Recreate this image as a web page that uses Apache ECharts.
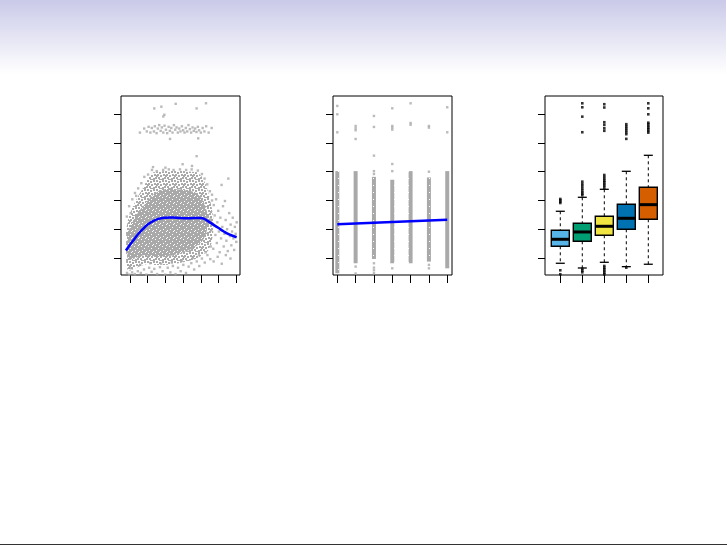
<!DOCTYPE html>
<html><head><meta charset="utf-8">
<script src="https://cdn.jsdelivr.net/npm/echarts@6/dist/echarts.min.js"></script>
<style>html,body{margin:0;padding:0;background:#fff}#c{width:727px;height:545px}</style>
</head><body><div id="c"></div>
<script>
// ---------- DATA ----------
const ageTicks = [20, 30, 40, 50, 60, 70, 80];
const yearTicks = [2003, 2004, 2005, 2006, 2007, 2008, 2009];
const eduTicks = [1, 2, 3, 4, 5];
const wageTicks = [50, 100, 150, 200, 250, 300];

// Panel 1: wage vs age — outlines of the point cloud (outer = medium density, inner = dense)
const ageOuter = [[17.8,40],[17.8,100],[19,118],[21,135],[23,148],[25,160],[27,170],[29,182],[31,192],[33,199],[40,201],[50,201],[58,199],[61,190],[63,176],[64.5,160],[66,140],[67,120],[67,95],[66,75],[64,62],[61,55],[57,48],[52,44],[46,40],[40,38],[34,38],[30,40],[26,36],[23,32],[20,28],[18.5,30]];
const ageInner = [[18.5,50],[18.5,90],[20,104],[22,116],[24,126],[26,135],[28,142],[30,150],[33,160],[36,166],[40,170],[45,170],[50,168],[55,166],[58,162],[60,155],[62,145],[63.5,130],[64,112],[63,92],[61,80],[58,72],[55,66],[51,61],[47,57],[43,54],[39,53],[35,53],[31,54],[28,55],[25,52],[22,48],[20,46]];
// sparse points around the cloud
const ageHalo = [
[18.2,122],[19.5,140],[20.4,128],[21.3,152],[22.8,163],[23.5,158],[24.6,171],[26.4,180],[28.1,191],
[30.2,195],[32.4,203],[35.1,201],[38.7,203],[41.9,204],[44.6,203],[48.2,204],[51.7,203],[54.8,204],[58.3,202],[60.6,196],[62.1,188],[63.6,178],[65.1,166],[66.3,150],
[33,208],[40,207],[49.7,213],[55,210],[57.6,227],
[65.5,118],[65.8,98],[66.3,160],[66.8,108],[67,66],[67.3,142],[67.8,124],[68.2,90],[68.6,152],[69,76],[69.3,112],[69.8,132],[70.2,96],[70.6,60],[71,120],[71.4,84],[71.7,177],[72.1,104],[72.5,140],[72.9,70],[73.3,92],[73.6,149],[74,116],[74.4,80],[74.8,100],[75.2,62],[75.5,188],[76,128],[76.4,88],[76.8,108],[77.2,72],[77.6,96],[78,120],[78.4,84],[78.8,64],[79.2,104],[79.6,92],[80,78],[80.2,112],
[18.3,24],[19.6,21],[21.2,25],[22.7,22],[24.4,27],[26.1,24],[27.9,30],[29.3,21],[30.8,33],[32.2,26],[33.7,31],[35.3,22],[36.9,34],[38.4,27],[39.9,21],[41.3,33],[42.8,25],[44.2,36],[45.7,22],[47.1,33],[48.6,27],[50.1,38],[51.6,24],[53.1,35],[54.6,41],[56.2,30],[57.7,44],[59.1,36],[60.6,49],[62.2,42],[63.7,55],[65.3,48],[67.2,44],[69.5,52],[71.8,40],[74.1,55],[76.7,49],
[20.5,32],[25.8,38],[31.4,41],[37.6,40],[43.6,42],[49.2,45],[55.4,50],[58.9,55],[62.8,60],[65.6,70]
];
// high earners
const ageHigh = [[25.6,268],[28,275],[29.5,270],[30.5,278],[31.5,268],[32.3,276],[33.5,270],[34,279],[35,267],[35.7,275],[36.5,281],[37.3,271],[38,277],[38.8,268],[39.5,280],[40.3,273],[41,267],[41.8,278],[42.5,271],[43.3,276],[44,268],[44.8,281],[45.5,273],[46.3,277],[47,268],[47.8,275],[48.5,270],[49.3,279],[50,272],[50.8,268],[51.5,276],[52.3,270],[53,281],[53.8,274],[54.5,268],[55.3,277],[56,271],[56.8,275],[57.5,269],[58.3,278],[59,272],[60,268],[61,276],[62,270],[63,279],[64.4,268],[66.1,276],[33.7,310],[37.7,313],[38.8,296],[39.4,299],[45.8,318],[57.6,310],[62.9,319],[42.6,257],[58.5,258]];
// smooth fit
const ageFit = [[17.7,63],[20,73],[22.5,83],[25,93],[27.5,101],[30,108],[33,114],[36,118],[40,120],[44,120.5],[48,119.5],[52,119],[56,119.5],[60,119.5],[62,118],[64,114],[67,108],[70,102],[73,96],[76,91],[80.2,86]];

// Panel 2: wage vs year — dense strip ranges [year, low, high]
const yearStrips = [[2003,23.4,201],[2004,40.8,201],[2005,48.3,191],[2006,40.8,186],[2007,40.8,201],[2008,43.7,190],[2009,32,201]];
const yearPoints = [
[2003,314.3],[2003,299.8],[2003,268.5],
[2004,279.5],[2004,275.5],[2004,272],[2004,256.9],[2004,35],[2004,23],
[2005,296.9],[2005,277.8],[2005,227.9],[2005,201],[2005,196],[2005,40.8],[2005,33.2],[2005,28.6],[2005,23.4],
[2006,310.2],[2006,279.5],[2006,276.6],[2006,273.1],[2006,213.4],[2006,201],[2006,32],
[2007,318.9],[2007,284.7],[2007,281.6],
[2008,279.5],[2008,276.6],[2008,200],[2008,38],[2008,32],
[2009,312],[2009,268.5]];
const yearFit = [[2003,108.6],[2009,116.6]];

// Panel 3: wage by education — [low whisker, Q1, median, Q3, high whisker]
const eduStats = [
[40.8,70.3,82.5,98.1,131.2],
[32.6,79,95.2,110.3,155.5],
[42.5,89.5,105.1,122.5,169.4],
[34.9,99.9,119,143.3,200.7],
[39.1,117.3,142.7,172.9,228.5]];
const eduOutliers = [
[1,152.6],[1,150.3],[1,147.9],[1,145.6],[1,28.6],[1,21.7],
[2,182.7],[2,178.6],[2,175.2],[2,171.2],[2,167.7],[2,164.2],[2,161.8],[2,159],[2,318.9],[2,312],[2,295.7],[2,268.6],[2,30.9],[2,28],[2,25.1],
[3,194.3],[3,190.8],[3,187.4],[3,184.4],[3,181.6],[3,178.6],[3,175.7],[3,172.2],[3,317.3],[3,311.6],[3,286],[3,281.5],[3,275.6],[3,271.1],[3,36.1],[3,33.2],[3,30.4],[3,27.4],[3,24.5],[3,21.7],
[4,282.6],[4,279.1],[4,275.6],[4,272.2],[4,268.7],[4,265.2],[4,257.1],[4,33.2],
[5,318.9],[5,310.2],[5,299.8],[5,285.2],[5,282.6],[5,279.5],[5,276.6],[5,273.8],[5,270.8],[5,267.9]];

// ---------- STYLE ----------
const eduColors = ['#56B4E9', '#009E73', '#F0E442', '#0072B2', '#D55E00'];
const GRAY = '#a9a9a9';
const FIT = '#0000ff';

// point-cloud textures (style only)
function tile(size, bg, fg, cells, cell) {
  const cv = document.createElement('canvas'); cv.width = size; cv.height = size;
  const g = cv.getContext('2d'); g.fillStyle = bg; g.fillRect(0, 0, size, size);
  g.fillStyle = fg; cells.forEach(p => g.fillRect(p[0], p[1], cell, cell));
  return {image: cv, repeat: 'repeat'};
}
const denseFill = tile(7, GRAY, '#ffffff', [[1,1],[4,3],[2,5],[6,6],[5,0]], 1);
const mediumFill = tile(9, '#ffffff', GRAY, [[0,0],[3,0],[6,1],[1,3],[4,3],[7,4],[2,6],[5,6],[0,7],[8,8],[6,8],[3,4]], 2);
const stripFill = tile(7, GRAY, '#ffffff', [[2,3]], 1);

const chart = echarts.init(document.getElementById('c'), null, {renderer: 'canvas'});

function grid(left, w) {
  return {left: left, top: 96, width: w, height: 179, show: true, borderColor: '#000', borderWidth: 1, backgroundColor: 'transparent', containLabel: false};
}
function xAx(i, min, max, ticks) {
  return {type: 'value', gridIndex: i, min: min, max: max,
    axisLine: {show: false}, splitLine: {show: false}, axisLabel: {show: false},
    axisTick: {show: true, inside: false, length: 8, customValues: ticks, lineStyle: {color: '#000', width: 1}}};
}
function yAx(i) {
  return {type: 'value', gridIndex: i, min: 20.4, max: 331.6,
    axisLine: {show: false}, splitLine: {show: false}, axisLabel: {show: false},
    axisTick: {show: true, inside: false, length: 7, customValues: wageTicks, lineStyle: {color: '#000', width: 1}}};
}
const pts = (i, data, color, size) => ({type: 'scatter', xAxisIndex: i, yAxisIndex: i, data: data, symbol: 'rect', symbolSize: size, itemStyle: {color: color}, silent: true, clip: false});
const poly = (outline, fill) => ({type: 'custom', xAxisIndex: 0, yAxisIndex: 0, silent: true, clip: false,
  data: [outline[0]],
  renderItem: function (params, api) {
    return {type: 'polygon', shape: {points: outline.map(p => api.coord(p))}, style: {fill: fill}};
  }});

const option = {
  animation: false,
  backgroundColor: '#fff',
  graphic: [
    {type: 'rect', left: 0, top: 0, shape: {width: 726, height: 74}, z: -10,
     style: {fill: new echarts.graphic.LinearGradient(0, 0, 0, 1, [{offset: 0, color: '#cacae9'}, {offset: 1, color: '#ffffff'}])}},
    {type: 'rect', left: 0, top: 544, shape: {width: 727, height: 1}, style: {fill: '#333'}}
  ],
  grid: [grid(121, 119), grid(333, 119), grid(545, 118)],
  xAxis: [xAx(0, 14.92, 82.09, ageTicks), xAx(1, 2002.765, 2009.26, yearTicks), xAx(2, 0.305, 5.668, eduTicks)],
  yAxis: [yAx(0), yAx(1), yAx(2)],
  series: [
    poly(ageOuter, mediumFill),
    poly(ageInner, denseFill),
    pts(0, ageHalo, GRAY, 2.4),
    pts(0, ageHigh, GRAY, 2.4),
    {type: 'line', xAxisIndex: 0, yAxisIndex: 0, data: ageFit, smooth: 0.4, showSymbol: false, lineStyle: {color: FIT, width: 2.5}, silent: true},

    {type: 'custom', xAxisIndex: 1, yAxisIndex: 1, silent: true, clip: false,
     data: yearStrips, encode: {x: 0, y: [1, 2]},
     renderItem: function (params, api) {
       const top = api.coord([api.value(0), api.value(2)]);
       const bot = api.coord([api.value(0), api.value(1)]);
       return {type: 'rect', shape: {x: top[0] - 2, y: top[1], width: 4, height: bot[1] - top[1]}, style: {fill: stripFill}};
     }},
    pts(1, yearPoints, GRAY, 2.4),
    {type: 'line', xAxisIndex: 1, yAxisIndex: 1, data: yearFit, showSymbol: false, lineStyle: {color: FIT, width: 2.5}, silent: true},

    {type: 'custom', xAxisIndex: 2, yAxisIndex: 2, silent: true, clip: false,
     data: eduStats.map((s, i) => [eduTicks[i]].concat(s)), encode: {x: 0, y: [1, 2, 3, 4, 5]},
     renderItem: function (params, api) {
       const x = api.value(0);
       const c = (v) => api.coord([x, v]);
       const cx = c(api.value(3))[0];
       const yLo = c(api.value(1))[1], yQ1 = c(api.value(2))[1], yMed = c(api.value(3))[1], yQ3 = c(api.value(4))[1], yHi = c(api.value(5))[1];
       const hw = 9, cw = 4.5;
       const ls = {stroke: '#000', lineWidth: 1, lineDash: [3, 3]};
       return {type: 'group', children: [
         {type: 'line', shape: {x1: cx, y1: yHi, x2: cx, y2: yQ3}, style: ls},
         {type: 'line', shape: {x1: cx, y1: yQ1, x2: cx, y2: yLo}, style: ls},
         {type: 'line', shape: {x1: cx - cw, y1: yHi, x2: cx + cw, y2: yHi}, style: {stroke: '#000', lineWidth: 1.3}},
         {type: 'line', shape: {x1: cx - cw, y1: yLo, x2: cx + cw, y2: yLo}, style: {stroke: '#000', lineWidth: 1.3}},
         {type: 'rect', shape: {x: cx - hw, y: yQ3, width: 2 * hw, height: yQ1 - yQ3}, style: {fill: eduColors[params.dataIndex], stroke: '#000', lineWidth: 1.4}},
         {type: 'line', shape: {x1: cx - hw, y1: yMed, x2: cx + hw, y2: yMed}, style: {stroke: '#000', lineWidth: 3}}
       ]};
     }},
    pts(2, eduOutliers, '#000', 2.6)
  ]
};
chart.setOption(option);
</script>
</body></html>
